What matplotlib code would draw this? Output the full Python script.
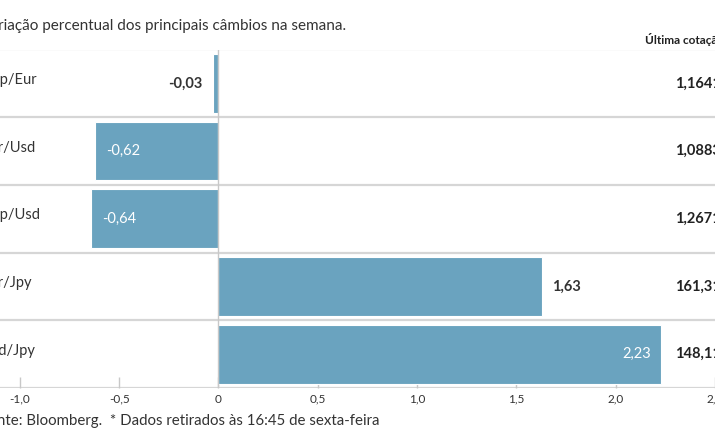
import matplotlib
matplotlib.use("Agg")
import matplotlib.pyplot as plt

# data
pairs = ["Gbp/Eur", "Eur/Usd", "Gbp/Usd", "Eur/Jpy", "Usd/Jpy"]
changes = [-0.03, -0.62, -0.64, 1.63, 2.23]
last_quotes = ["1,1641", "1,0883", "1,2671", "161,31", "148,11"]
tick_values = [-1.0, -0.5, 0.0, 0.5, 1.0, 1.5, 2.0, 2.5]
tick_labels = ["-1,0", "-0,5", "0", "0,5", "1,0", "1,5", "2,0", "2,5"]

title = "Variação percentual dos principais câmbios na semana."
quote_header = "Última cotação*"
footer = "Fonte: Bloomberg.  * Dados retirados às 16:45 de sexta-feira"

BAR = "#6aa3bf"
GRID = "#d6d6d6"
TEXT = "#333333"
W, H = 715, 445

plt.rcParams["font.family"] = ["Lato", "DejaVu Sans"]


def fx(x):
    return x / W


def fy(y):
    return 1 - y / H


fig = plt.figure(figsize=(W / 100, H / 100), dpi=100)
ax = fig.add_axes([0, fy(388), 1, fy(49.5) - fy(388)])

ypos = list(range(len(pairs)))
ax.barh(ypos, changes, height=0.87, color=BAR, edgecolor="white", linewidth=0.8, zorder=2)
ax.set_xlim(-1.1, 2.495)
ax.set_ylim(len(pairs) - 0.5, -0.5)

for b in [i - 0.5 for i in range(len(pairs) + 1)]:
    ax.axhline(b, color=GRID, lw=1.6, zorder=1)
ax.axvline(0, color="#c8c8c8", lw=1, zorder=3)

for sp in ax.spines.values():
    sp.set_visible(False)
ax.set_yticks([])
ax.set_xticks(tick_values)
ax.set_xticklabels(tick_labels)
ax.tick_params(axis="x", direction="in", length=8, width=1, color="#c8c8c8",
               labelsize=8.5, labelcolor=TEXT, pad=4)

xmin, xmax = ax.get_xlim()
for i, v in enumerate(changes):
    lab = f"{v:.2f}".replace(".", ",")
    # value labels: white inside long bars, dark bold outside short ones
    if abs(v) < 0.1:
        ax.text(v - 0.05, i, lab, ha="right", va="center",
                fontsize=10.5, fontweight="bold", color=TEXT)
    elif v < 0:
        ax.text(v + 0.055, i, lab, ha="left", va="center",
                fontsize=10.5, color="white")
    elif v > 2:
        ax.text(v - 0.05, i, lab, ha="right", va="center",
                fontsize=10.5, color="white")
    else:
        ax.text(v + 0.05, i, lab, ha="left", va="center",
                fontsize=10.5, fontweight="bold", color=TEXT)
    ax.text(xmin - 18.5 / 199, i - 0.05, pairs[i], ha="left", va="center",
            fontsize=10.5, color=TEXT)
    ax.text(xmin + 722 / 199, i, last_quotes[i], ha="right", va="center",
            fontsize=10.5, fontweight="bold", color="#222222", clip_on=False)

fig.text(fx(-20), fy(26), title, ha="left", va="center", fontsize=11, color=TEXT)
fig.text(fx(645), fy(40), quote_header, ha="left", va="center", fontsize=8.5,
         fontweight="bold", color="#222222")
fig.text(fx(-20), fy(421), footer, ha="left", va="center", fontsize=10.8, color=TEXT)

fig.savefig("out.png", dpi=100)
